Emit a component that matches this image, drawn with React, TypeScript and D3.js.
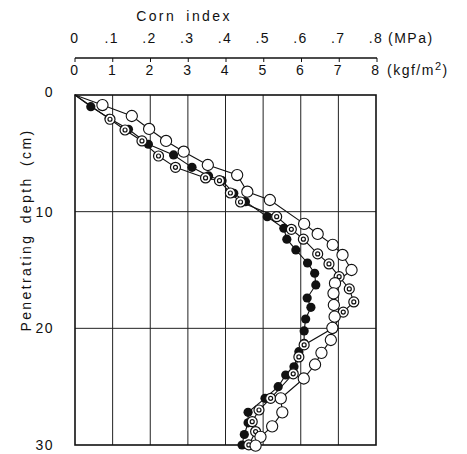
import React from "react";
import * as d3 from "d3";

// kgf/m2 values, depth in cm
const openDepth = [0, 0.86, 1.8, 2.91, 3.94, 4.86, 6.0, 6.86, 8.29, 9.0, 11.05, 11.91, 12.85, 13.71, 15.0, 16.13, 17.0, 18.0, 19.0, 19.96, 21.0, 22.1, 23.1, 24.3, 26.0, 27.2, 28.4, 29.3, 30.05];
const openValue = [0, 0.73, 1.51, 1.97, 2.42, 2.89, 3.53, 4.31, 4.58, 5.18, 6.09, 6.45, 6.85, 7.11, 7.35, 6.91, 6.87, 6.88, 6.9, 6.84, 6.8, 6.55, 6.38, 6.08, 5.47, 5.51, 5.24, 4.93, 4.8];

const ringDepth = [0, 2.08, 3.0, 3.94, 5.23, 6.2, 7.11, 7.34, 8.4, 9.17, 10.43, 11.51, 12.36, 13.62, 14.48, 15.57, 16.62, 17.74, 18.61, 20.0, 21.42, 22.45, 23.9, 26.0, 27.0, 28.0, 28.85, 29.99];
const ringValue = [0, 0.93, 1.33, 1.78, 2.22, 2.67, 3.47, 3.84, 4.13, 4.4, 5.36, 5.75, 6.07, 6.45, 6.75, 7.02, 7.29, 7.41, 7.13, 6.85, 6.09, 5.95, 5.8, 5.2, 4.89, 4.71, 4.8, 4.62];

const filledDepth = [0, 1.0, 2.0, 2.94, 4.22, 5.14, 6.2, 6.94, 7.34, 8.42, 9.14, 10.43, 11.42, 12.36, 13.28, 14.4, 15.28, 16.28, 17.4, 18.2, 19.2, 20.22, 21.28, 22.0, 23.3, 24.0, 25.0, 26.0, 27.2, 28.1, 29.1, 30.0];
const filledValue = [0, 0.42, 0.91, 1.42, 1.95, 2.62, 3.11, 3.55, 3.91, 4.22, 4.53, 5.11, 5.55, 5.63, 5.87, 6.18, 6.37, 6.4, 6.17, 6.27, 6.13, 6.09, 6.09, 5.95, 5.82, 5.6, 5.4, 5.05, 4.6, 4.6, 4.5, 4.44];

const kgfTicks = [0, 1, 2, 3, 4, 5, 6, 7, 8];
const mpaTicks = [0, 0.1, 0.2, 0.3, 0.4, 0.5, 0.6, 0.7, 0.8];
const mpaLabels = ["0", ".1", ".2", ".3", ".4", ".5", ".6", ".7", ".8"];
const depthTicks = [0, 10, 20, 30];

const font = "'Liberation Sans', Arial, sans-serif";

export default function App() {
  const left = 75, right = 376, top = 95, bottom = 445;
  const x = d3.scaleLinear().domain([0, 8]).range([left, right]);
  const xMpa = d3.scaleLinear().domain([0, 0.8]).range([left, right + 1]);
  const y = d3.scaleLinear().domain([0, 30]).range([top, bottom]);

  const line = d3.line<[number, number]>()
    .x(d => x(d[0]))
    .y(d => y(d[1]));

  const pts = (v: number[], dp: number[]) => v.map((val, i) => [val, dp[i]] as [number, number]);
  const open = pts(openValue, openDepth);
  const ring = pts(ringValue, ringDepth);
  const filled = pts(filledValue, filledDepth);

  const txt = { fontFamily: font, fontSize: 14, letterSpacing: 1.5, fill: "#111" } as const;
  const title = { ...txt, letterSpacing: 2.4, wordSpacing: 4 };

  return (
    <svg width={467} height={454} style={{ position: "absolute", left: 0, top: 0, background: "#fff" }}>
      {/* grid */}
      {kgfTicks.slice(1, -1).map(t => (
        <line key={"gx" + t} x1={x(t)} x2={x(t)} y1={top} y2={bottom} stroke="#222" strokeWidth={1} />
      ))}
      {[10, 20].map(t => (
        <line key={"gy" + t} x1={left} x2={right} y1={y(t)} y2={y(t)} stroke="#222" strokeWidth={1} />
      ))}
      <rect x={left} y={top} width={right - left} height={bottom - top} fill="none" stroke="#111" strokeWidth={1.6} />

      {/* top kgf labels */}
      {kgfTicks.map(t => (
        <text key={"kl" + t} x={x(t)} y={75} textAnchor="middle" {...txt}>{t}</text>
      ))}
      <text x={387} y={75} {...txt}>(kgf/m<tspan dy={-5} fontSize={11}>2</tspan><tspan dy={5}>)</tspan></text>

      {/* MPa axis */}
      <line x1={xMpa(0)} x2={xMpa(0.8)} y1={58} y2={58} stroke="#111" strokeWidth={1.5} />
      {mpaTicks.map(t => (
        <line key={"mt" + t} x1={xMpa(t)} x2={xMpa(t)} y1={58} y2={62} stroke="#111" strokeWidth={1} />
      ))}
      {mpaTicks.map((t, i) => (
        <text key={"ml" + t} x={xMpa(t) + (i === 0 ? 0 : -1)} y={43} textAnchor="middle" {...txt}>{mpaLabels[i]}</text>
      ))}
      <text x={388} y={43} {...txt}>(MPa)</text>
      <text x={184} y={21} textAnchor="middle" {...title}>Corn index</text>

      {/* depth labels */}
      {depthTicks.map(t => (
        <text key={"dl" + t} x={54} y={y(t) + 5 - (t === 0 ? 3 : 0)} textAnchor="end" {...txt}>{t}</text>
      ))}
      <text transform={`translate(31,${230}) rotate(-90)`} textAnchor="middle" {...title}>Penetrating depth (cm)</text>

      {/* series lines */}
      {[filled, ring, open].map((s, i) => (
        <path key={"ln" + i} d={line(s) || ""} fill="none" stroke="#111" strokeWidth={1.1} />
      ))}

      {/* markers */}
      {filled.filter(d => d[1] > 0).map((d, i) => (
        <circle key={"f" + i} cx={x(d[0])} cy={y(d[1])} r={4.6} fill="#111" />
      ))}
      {ring.filter(d => d[1] > 0).map((d, i) => (
        <g key={"r" + i}>
          <circle cx={x(d[0])} cy={y(d[1])} r={5} fill="#fff" stroke="#111" strokeWidth={1.2} />
          <circle cx={x(d[0])} cy={y(d[1])} r={2} fill="#fff" stroke="#111" strokeWidth={1.2} />
        </g>
      ))}
      {open.filter(d => d[1] > 0).map((d, i) => (
        <circle key={"o" + i} cx={x(d[0])} cy={y(d[1])} r={5.6} fill="#fff" stroke="#111" strokeWidth={1.1} />
      ))}
    </svg>
  );
}
